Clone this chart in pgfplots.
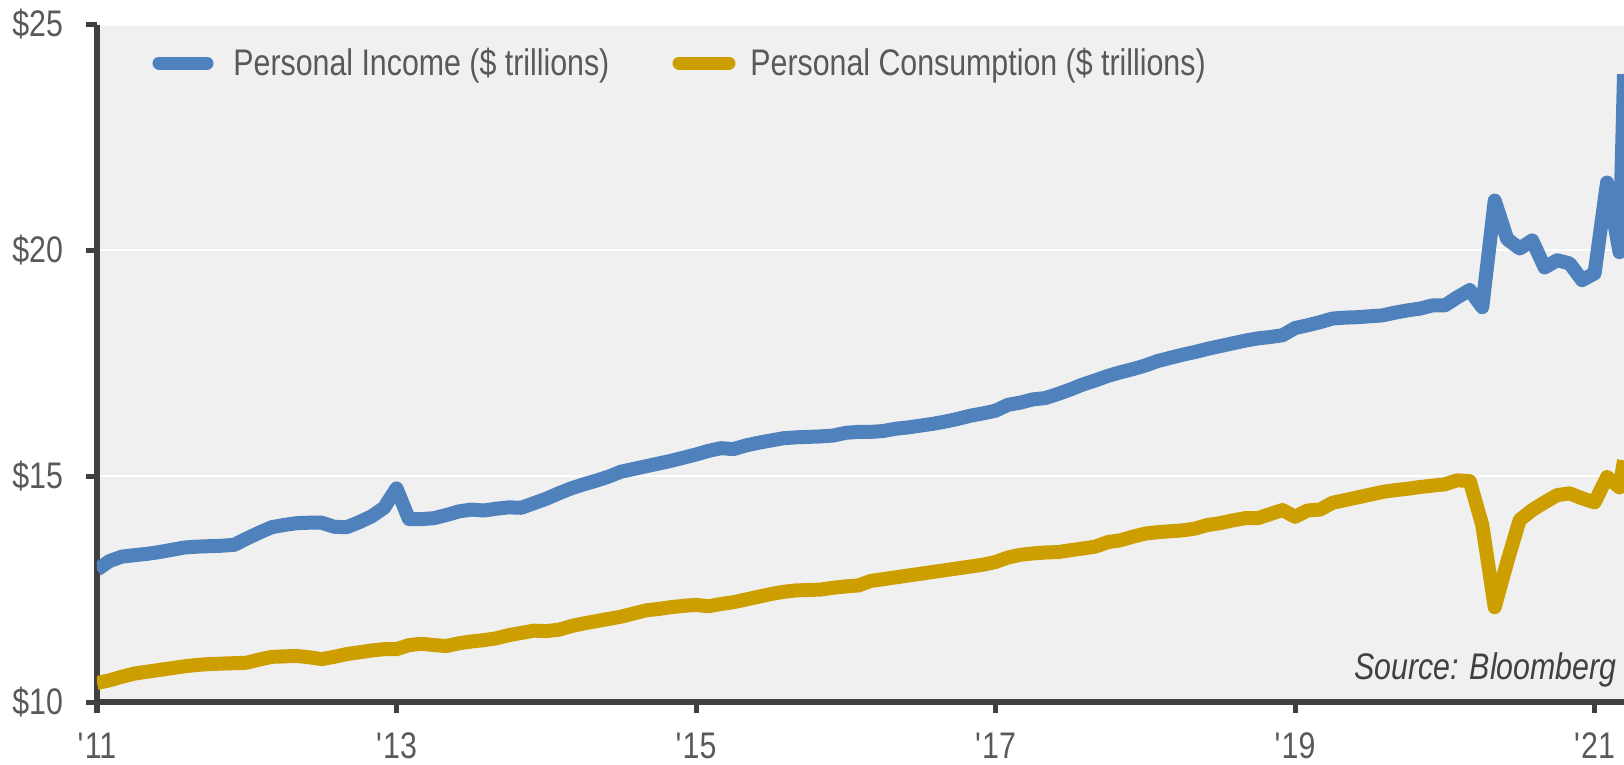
\documentclass[border=0pt]{standalone}
\usepackage{fontspec}
\setmainfont{Liberation Sans}[FakeStretch=0.82]
\usepackage{pgfplots}
\pgfplotsset{compat=1.18}
\usepackage{pgfplotstable}
\definecolor{incblue}{RGB}{79,129,189}
\definecolor{congold}{RGB}{205,158,0}
\definecolor{axisgray}{RGB}{64,64,64}
\definecolor{labelgray}{RGB}{89,89,89}
\definecolor{bggray}{RGB}{240,240,240}

\pgfplotstableread{
m inc con
0 12.93 10.42
1 13.12 10.48
2 13.22 10.56
3 13.25 10.63
4 13.28 10.67
5 13.32 10.71
6 13.37 10.75
7 13.42 10.79
8 13.44 10.82
9 13.45 10.84
10 13.46 10.85
11 13.48 10.86
12 13.62 10.87
13 13.75 10.94
14 13.87 11.00
15 13.92 11.01
16 13.96 11.02
17 13.97 10.99
18 13.97 10.95
19 13.88 11.00
20 13.87 11.06
21 13.98 11.10
22 14.11 11.14
23 14.30 11.17
24 14.73 11.17
25 14.05 11.26
26 14.05 11.29
27 14.07 11.26
28 14.14 11.24
29 14.22 11.30
30 14.26 11.34
31 14.24 11.37
32 14.28 11.41
33 14.31 11.48
34 14.30 11.53
35 14.40 11.58
36 14.50 11.57
37 14.62 11.60
38 14.73 11.68
39 14.82 11.74
40 14.90 11.79
41 14.99 11.84
42 15.10 11.89
43 15.16 11.96
44 15.22 12.03
45 15.28 12.06
46 15.34 12.10
47 15.41 12.13
48 15.48 12.15
49 15.56 12.12
50 15.62 12.17
51 15.60 12.21
52 15.68 12.27
53 15.74 12.33
54 15.79 12.39
55 15.84 12.44
56 15.86 12.47
57 15.87 12.48
58 15.88 12.49
59 15.90 12.53
60 15.96 12.56
61 15.98 12.58
62 15.98 12.68
63 16.00 12.72
64 16.05 12.76
65 16.08 12.80
66 16.12 12.84
67 16.16 12.88
68 16.21 12.92
69 16.27 12.96
70 16.34 13.00
71 16.39 13.04
72 16.45 13.10
73 16.58 13.20
74 16.63 13.26
75 16.70 13.29
76 16.73 13.31
77 16.82 13.32
78 16.92 13.36
79 17.03 13.40
80 17.12 13.44
81 17.22 13.54
82 17.30 13.58
83 17.37 13.66
84 17.45 13.73
85 17.55 13.76
86 17.62 13.78
87 17.69 13.80
88 17.75 13.84
89 17.82 13.92
90 17.88 13.96
91 17.94 14.02
92 18.00 14.07
93 18.05 14.07
94 18.08 14.16
95 18.12 14.25
96 18.28 14.10
97 18.34 14.24
98 18.41 14.26
99 18.49 14.41
100 18.51 14.47
101 18.52 14.53
102 18.54 14.59
103 18.56 14.65
104 18.62 14.69
105 18.67 14.72
106 18.71 14.76
107 18.78 14.79
108 18.78 14.82
109 18.96 14.91
110 19.12 14.89
111 18.74 13.92
112 21.10 12.10
113 20.25 13.10
114 20.04 14.03
115 20.22 14.25
116 19.62 14.42
117 19.78 14.58
118 19.71 14.62
119 19.34 14.51
120 19.49 14.42
121 21.50 14.98
122 19.96 14.75
122.36 23.90 15.35
}\datatable

\begin{document}
\begin{tikzpicture}
\useasboundingbox (0,0) rectangle (812bp,-382.5bp);
\begin{axis}[
  at={(48.5bp,-351bp)}, anchor=south west,
  scale only axis, width=763.5bp, height=338.75bp,
  xmin=0, xmax=122.36, ymin=10, ymax=25,
  axis x line=bottom, axis y line=left,
  axis line style={-, line width=3bp, draw=axisgray},
  axis background/.style={fill=bggray},
  ytick={10,15,20,25},
  yticklabels={\$10,\$15,\$20,\$25},
  xtick={0,24,48,72,96,120},
  xticklabels={\textquotesingle11,\textquotesingle13,\textquotesingle15,\textquotesingle17,\textquotesingle19,\textquotesingle21},
  tick align=outside,
  major tick length=5.5bp,
  tick style={line width=2.5bp, draw=axisgray},
  ymajorgrids,
  grid style={white, line width=1bp},
  ticklabel style={font=\fontsize{18.5bp}{20bp}\selectfont, text=labelgray},
  yticklabel style={xshift=-8bp},
  xticklabel style={yshift=-6.5bp},
  no markers,
]
\addplot[incblue, line width=7bp, line join=round] table[x=m, y=inc]{\datatable};
\addplot[congold, line width=7bp, line join=round] table[x=m, y=con]{\datatable};
\end{axis}
\draw[incblue, line width=6.5bp, line cap=round] (79.5bp,-31.5bp) -- (103.5bp,-31.5bp);
\node[anchor=base west, inner sep=0pt, text=labelgray, font=\fontsize{18.5bp}{20bp}\selectfont] at (116.5bp,-37.5bp) {Personal Income (\$ trillions)};
\draw[congold, line width=6.5bp, line cap=round] (339.5bp,-31.5bp) -- (364.5bp,-31.5bp);
\node[anchor=base west, inner sep=0pt, text=labelgray, font=\fontsize{18.5bp}{20bp}\selectfont] at (375bp,-37.5bp) {Personal Consumption (\$ trillions)};
\node[anchor=base east, inner sep=0pt, text=axisgray, font=\itshape\fontsize{18.5bp}{20bp}\selectfont] at (808.5bp,-339.5bp) {Source: Bloomberg};
\end{tikzpicture}
\end{document}
